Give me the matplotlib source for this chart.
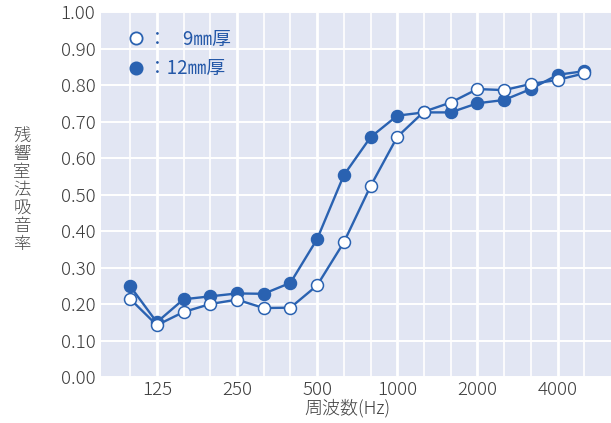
import matplotlib
matplotlib.use("Agg")
import matplotlib.pyplot as plt
from matplotlib.lines import Line2D
from matplotlib.ticker import FixedLocator, NullFormatter

plt.rcParams["font.family"] = ["Noto Sans CJK JP", "DejaVu Sans"]

# 1/3 octave band centre frequencies (Hz)
bands = ["100", "125", "160", "200", "250", "315", "400", "500", "630", "800",
         "1000", "1250", "1600", "2000", "2500", "3150", "4000", "5000"]
labelled = ["125", "250", "500", "1000", "2000", "4000"]

# absorption coefficients
alpha_9mm = [0.214, 0.142, 0.178, 0.200, 0.212, 0.189, 0.190, 0.251, 0.369, 0.523,
             0.658, 0.727, 0.752, 0.789, 0.786, 0.803, 0.814, 0.832]
alpha_12mm = [0.249, 0.150, 0.213, 0.221, 0.229, 0.228, 0.258, 0.378, 0.553, 0.657,
              0.716, 0.725, 0.725, 0.750, 0.759, 0.789, 0.828, 0.838]

yticks = [0.0, 0.1, 0.2, 0.3, 0.4, 0.5, 0.6, 0.7, 0.8, 0.9, 1.0]

BLUE = "#2a62b1"
BG = "#e2e6f3"
TXT = "#3d3d3d"

fig = plt.figure(figsize=(6.11, 4.23), dpi=100)
ax = fig.add_axes([0.1653, 0.1087, 0.8347, 0.8629])
ax.set_facecolor(BG)
for s in ax.spines.values():
    s.set_visible(False)

x = list(range(len(bands)))
ax.plot(x, alpha_12mm, color=BLUE, lw=1.7, marker="o", ms=8.6,
        mfc=BLUE, mec=BLUE, mew=1.1, zorder=3)
ax.plot(x, alpha_9mm, color=BLUE, lw=1.7, marker="o", ms=8.6,
        mfc="white", mec=BLUE, mew=1.1, zorder=4)

ax.set_xlim(-1.09, 18.0)
ax.set_ylim(0, 1.0)

major_x = [bands.index(b) for b in labelled]
ax.xaxis.set_major_locator(FixedLocator(major_x))
ax.set_xticklabels(labelled)
ax.xaxis.set_minor_locator(FixedLocator(x))
ax.xaxis.set_minor_formatter(NullFormatter())
ax.set_yticks(yticks)
ax.set_yticklabels([f"{v:.2f}" for v in yticks])

ax.grid(axis="x", which="major", color="white", lw=2.0, zorder=1)
ax.grid(axis="x", which="minor", color="white", lw=1.2, zorder=1)
ax.grid(axis="y", which="major", color="white", lw=1.4, zorder=1)
ax.set_axisbelow(True)

ax.tick_params(axis="both", which="both", length=0, colors=TXT)
ax.tick_params(axis="y", labelsize=13.5, pad=4)
ax.tick_params(axis="x", labelsize=13.5, pad=3)
for lab in ax.get_xticklabels() + ax.get_yticklabels():
    lab.set_fontweight("light")

ax.set_xlabel("周波数(Hz)", fontsize=13, color=TXT, fontweight="light")
ax.xaxis.set_label_coords((347 - 101) / 510, -0.06)
fig.text(0.036, 0.551, "\n".join("残響室法吸音率"), fontsize=12.5, color="#4a4a4a",
         ha="center", va="center", linespacing=1.0, fontweight="light")

handles = [
    Line2D([], [], ls="none", marker="o", ms=8.8, mfc="white", mec=BLUE, mew=1.3),
    Line2D([], [], ls="none", marker="o", ms=8.8, mfc=BLUE, mec=BLUE, mew=1.3),
]
ax.legend(handles, ["：\u2007 9㎜厚", "：12㎜厚"], loc="upper left",
          bbox_to_anchor=(0.025, 0.99), frameon=False, fontsize=13.5,
          labelcolor="#2458a8", handlelength=1.0, handletextpad=0.15,
          labelspacing=0.45, borderaxespad=0.3)

fig.savefig("out.png", dpi=100, facecolor="white")
